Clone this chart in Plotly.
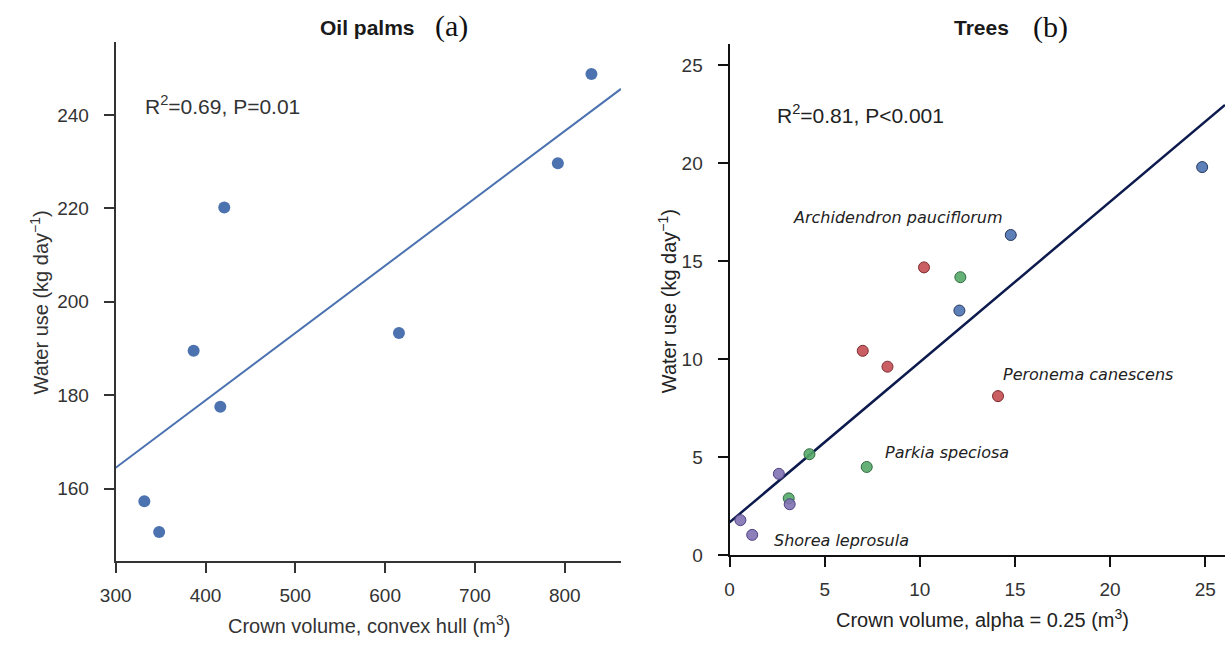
import numpy as np
import plotly.graph_objects as go

# ---- Oil palms: crown volume (convex hull, m3) vs water use (kg/day)
palm_volume = [331.9, 348.4, 386.8, 416.5, 420.9, 615.4, 792.3, 829.7]
palm_water = [157.3, 150.7, 189.5, 177.5, 220.2, 193.3, 229.7, 248.8]

# ---- Trees: crown volume (alpha = 0.25, m3) vs water use, by species
tree_species = ["Archidendron pauciflorum", "Peronema canescens",
                "Parkia speciosa", "Shorea leprosula"]
tree_volume = {
    "Archidendron pauciflorum": [24.84, 14.78, 12.08],
    "Peronema canescens": [10.22, 7.00, 8.30, 14.11],
    "Parkia speciosa": [12.13, 4.20, 7.21, 3.11],
    "Shorea leprosula": [2.59, 3.16, 0.57, 1.19],
}
tree_water = {
    "Archidendron pauciflorum": [19.79, 16.33, 12.48],
    "Peronema canescens": [14.68, 10.43, 9.62, 8.12],
    "Parkia speciosa": [14.18, 5.16, 4.51, 2.91],
    "Shorea leprosula": [4.16, 2.61, 1.80, 1.05],
}
species_fill = {
    "Archidendron pauciflorum": "rgba(76,114,176,0.9)",
    "Peronema canescens": "rgba(196,78,82,0.9)",
    "Parkia speciosa": "rgba(85,168,104,0.9)",
    "Shorea leprosula": "rgba(129,114,178,0.9)",
}
species_edge = {
    "Archidendron pauciflorum": "#26395f",
    "Peronema canescens": "#7d2a2e",
    "Parkia speciosa": "#2f6c40",
    "Shorea leprosula": "#4d4283",
}
# label anchor (left edge, vertical middle) in data units
species_label_pos = {
    "Archidendron pauciflorum": (3.22, 17.23),
    "Peronema canescens": (14.26, 9.22),
    "Parkia speciosa": (8.04, 5.26),
    "Shorea leprosula": (2.23, 0.75),
}

palm_stats = "R<sup>2</sup>=0.69, P=0.01"
tree_stats = "R<sup>2</sup>=0.81, P<0.001"

palm_xticks = [300, 400, 500, 600, 700, 800]
palm_yticks = [160, 180, 200, 220, 240]
tree_ticks = [0, 5, 10, 15, 20, 25]

palm_xrange = [300, 862.6]
palm_yrange = [144.4, 255.6]
tree_xrange = [0, 26.04]
tree_yrange = [0, 26.05]

SANS = "Liberation Sans, Arial, sans-serif"
SERIF = "Liberation Serif, Times New Roman, serif"
ITAL = "DejaVu Sans, sans-serif"
fig = go.Figure()

# left panel: points + least-squares line
fig.add_trace(go.Scatter(
    x=palm_volume, y=palm_water, mode="markers",
    marker=dict(color="#4C72B0", size=12, line=dict(width=0)),
    xaxis="x", yaxis="y", showlegend=False))
k, b = np.polyfit(palm_volume, palm_water, 1)
xl = np.array(palm_xrange)
fig.add_trace(go.Scatter(
    x=xl, y=k * xl + b, mode="lines",
    line=dict(color="#4C72B0", width=2),
    xaxis="x", yaxis="y", showlegend=False))

# right panel: pooled least-squares line + species points
all_x = np.concatenate([tree_volume[s] for s in tree_species])
all_y = np.concatenate([tree_water[s] for s in tree_species])
k2, b2 = np.polyfit(all_x, all_y, 1)
xr = np.array(tree_xrange)
fig.add_trace(go.Scatter(
    x=xr, y=k2 * xr + b2, mode="lines",
    line=dict(color="#0d1a4d", width=2.5),
    xaxis="x2", yaxis="y2", showlegend=False))
for s in tree_species:
    fig.add_trace(go.Scatter(
        x=tree_volume[s], y=tree_water[s], mode="markers", name=s,
        marker=dict(color=species_fill[s], size=11,
                    line=dict(color=species_edge[s], width=1)),
        xaxis="x2", yaxis="y2", showlegend=False))

axis_common = dict(showgrid=False, zeroline=False, showline=True,
                   ticks="outside", ticklen=10, tickwidth=1.5,
                   tickfont=dict(family=SANS, size=19, color="#333333"),
                   fixedrange=True)

fig.update_layout(
    width=1225, height=653,
    margin=dict(l=0, r=0, t=0, b=0),
    paper_bgcolor="white", plot_bgcolor="white",
    xaxis=dict(domain=[101 / 1225, 613 / 1225], range=palm_xrange,
               tickvals=palm_xticks, ticklabelstandoff=6,
               linecolor="#333333", linewidth=2, tickcolor="#333333",
               anchor="y", **axis_common),
    yaxis=dict(domain=[82 / 653, 610 / 653], range=palm_yrange,
               tickvals=palm_yticks, ticklabelstandoff=11,
               linecolor="#333333", linewidth=2, tickcolor="#333333",
               anchor="x", **axis_common),
    xaxis2=dict(domain=[723 / 1225, 1.0], range=tree_xrange,
                tickvals=tree_ticks, ticklabelstandoff=6,
                linecolor="#111111", linewidth=2, tickcolor="#111111",
                anchor="y2", **axis_common),
    yaxis2=dict(domain=[88 / 653, 608 / 653], range=tree_yrange,
                tickvals=tree_ticks, ticklabelstandoff=11,
                linecolor="#111111", linewidth=2, tickcolor="#111111",
                anchor="x2", **axis_common),
)


def paper_text(text, px, py, font, angle=0):
    """Text centred on a pixel position of the 1225x653 canvas."""
    return dict(text=text, x=px / 1225, y=1 - py / 653,
                xref="paper", yref="paper", xanchor="center",
                yanchor="middle", showarrow=False, textangle=angle,
                font=font)


ann = [
    # panel titles
    paper_text("<b>Oil palms</b>", 356, 28,
               dict(family=SANS, size=21, color="#1a1a1a")),
    paper_text("(a)", 441, 26, dict(family=SERIF, size=30, color="#111111")),
    paper_text("<b>Trees</b>", 978, 28,
               dict(family=SANS, size=21, color="#1a1a1a")),
    paper_text("(b)", 1048, 27, dict(family=SERIF, size=30, color="#111111")),
    # axis titles
    paper_text("Crown volume, convex hull (m<sup>3</sup>)", 358, 635,
               dict(family=SANS, size=20, color="#333333")),
    paper_text("Crown volume, alpha = 0.25 (m<sup>3</sup>)", 979, 629,
               dict(family=SANS, size=20, color="#222222")),
    paper_text("Water use (kg day<sup>\u22121</sup>)", 24, 308,
               dict(family=SANS, size=20, color="#333333"), -90),
    paper_text("Water use (kg day<sup>\u22121</sup>)", 660, 306,
               dict(family=SANS, size=20, color="#222222"), -90),
]
# fit statistics
ann.append(dict(text=palm_stats, x=330.8, y=242.2, xref="x", yref="y",
                xanchor="left", yanchor="middle", showarrow=False,
                font=dict(family=SANS, size=21, color="#333333")))
ann.append(dict(text=tree_stats, x=2.39, y=22.5, xref="x2", yref="y2",
                xanchor="left", yanchor="middle", showarrow=False,
                font=dict(family=SANS, size=21, color="#222222")))
# species labels
for s in tree_species:
    lx, ly = species_label_pos[s]
    ann.append(dict(text=f"<i>{s}</i>", x=lx, y=ly, xref="x2", yref="y2",
                    xanchor="left", yanchor="middle", showarrow=False,
                    font=dict(family=ITAL, size=16, color="#222222")))
fig.update_layout(annotations=ann)

fig.write_html("out.html")
